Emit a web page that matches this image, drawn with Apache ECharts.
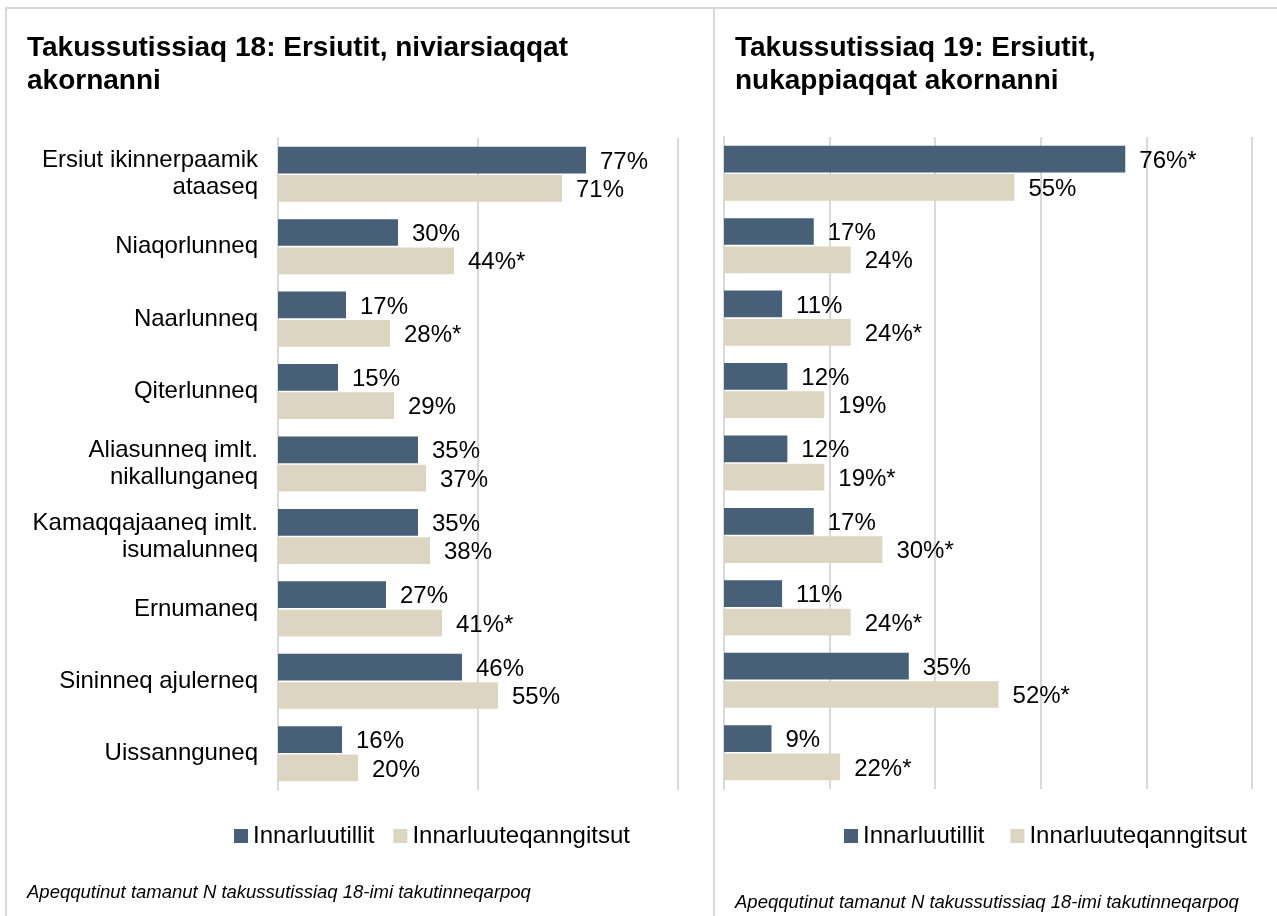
<!DOCTYPE html>
<html>
<head>
<meta charset="utf-8">
<script src="https://cdn.jsdelivr.net/npm/echarts@6/dist/echarts.min.js"></script>
<style>
  html, body { margin: 0; padding: 0; background: #fff; }
  #main { width: 1277px; height: 916px; }
</style>
</head>
<body>
<div id="main"></div>
<script>
// categories (same for both panels)
const categories = [
  "Ersiut ikinnerpaamik\nataaseq",
  "Niaqorlunneq",
  "Naarlunneq",
  "Qiterlunneq",
  "Aliasunneq imlt.\nnikallunganeq",
  "Kamaqqajaaneq imlt.\nisumalunneq",
  "Ernumaneq",
  "Sininneq ajulerneq",
  "Uissannguneq"
];
const seriesNames = ["Innarluutillit", "Innarluuteqanngitsut"];

// Takussutissiaq 18 - niviarsiaqqat
const girlsWith = [77, 30, 17, 15, 35, 35, 27, 46, 16];
const girlsWithout = [71, 44, 28, 29, 37, 38, 41, 55, 20];
const girlsWithStar = [0, 0, 0, 0, 0, 0, 0, 0, 0];
const girlsWithoutStar = [0, 1, 1, 0, 0, 0, 1, 0, 0];

// Takussutissiaq 19 - nukappiaqqat
const boysWith = [76, 17, 11, 12, 12, 17, 11, 35, 9];
const boysWithout = [55, 24, 24, 19, 19, 30, 24, 52, 22];
const boysWithStar = [1, 0, 0, 0, 0, 0, 0, 0, 0];
const boysWithoutStar = [0, 0, 1, 0, 1, 1, 1, 1, 1];

const BLUE = "#476078";
const BEIGE = "#dcd5c2";
const GRID = "#d9d9d9";
const FONT = "'Liberation Sans', Arial, sans-serif";

var myChart = echarts.init(document.getElementById("main"));

function makeLabel(stars) {
  return {
    show: true,
    position: "right",
    distance: 14,
    offset: [0, 2],
    fontFamily: FONT,
    fontSize: 24,
    color: "#000",
    formatter: (p) => p.value + "%" + (stars[p.dataIndex] ? "*" : "")
  };
}

function makeBar(name, idx, data, color, stars) {
  return {
    name: name,
    type: "bar",
    xAxisIndex: idx,
    yAxisIndex: idx,
    data: data,
    barGap: "6%",
    barCategoryGap: "24%",
    itemStyle: { color: color },
    label: makeLabel(stars)
  };
}

function makeXAxis(idx, interval) {
  return {
    type: "value",
    gridIndex: idx,
    min: 0,
    max: 100,
    interval: interval,
    axisLabel: { show: false },
    axisTick: { show: false },
    axisLine: { show: false },
    splitLine: { show: true, lineStyle: { color: GRID, width: 2 } }
  };
}

function makeYAxis(idx, showLabels) {
  return {
    type: "category",
    gridIndex: idx,
    inverse: true,
    data: categories,
    axisTick: { show: false },
    axisLine: { show: true, lineStyle: { color: GRID, width: 2 } },
    axisLabel: {
      show: showLabels,
      margin: 20,
      padding: [5, 0, 0, 0],
      fontFamily: FONT,
      fontSize: 24,
      lineHeight: 27,
      color: "#000",
      align: "right"
    }
  };
}

const titleStyle = { fontFamily: FONT, fontSize: 28, fontWeight: "bold", color: "#000", lineHeight: 33 };
const noteStyle = { fontFamily: FONT, fontSize: 18.5, fontStyle: "italic", fontWeight: "normal", color: "#000" };
const legendText = { fontFamily: FONT, fontSize: 24, color: "#000" };

var option = {
  animation: false,
  backgroundColor: "#fff",
  title: [
    { text: "Takussutissiaq 18: Ersiutit, niviarsiaqqat\nakornanni", left: 22, top: 27, textStyle: titleStyle },
    { text: "Takussutissiaq 19: Ersiutit,\nnukappiaqqat akornanni", left: 730, top: 27, textStyle: titleStyle },
    { text: "Apeqqutinut tamanut N takussutissiaq 18-imi takutinneqarpoq", left: 22, top: 878, textStyle: noteStyle },
    { text: "Apeqqutinut tamanut N takussutissiaq 18-imi takutinneqarpoq", left: 730, top: 888, textStyle: noteStyle }
  ],
  graphic: [
    { type: "rect", shape: { x: 6, y: 8, width: 708, height: 930 }, style: { fill: "none", stroke: "#d9d9d9", lineWidth: 2 }, z: -1 },
    { type: "rect", shape: { x: 714, y: 8, width: 580, height: 930 }, style: { fill: "none", stroke: "#d9d9d9", lineWidth: 2 }, z: -1 }
  ],
  legend: [
    { data: seriesNames, left: 229, top: 819, itemWidth: 14, itemHeight: 14, itemGap: 19, icon: "rect", textStyle: legendText },
    { data: seriesNames, left: 839, top: 819, itemWidth: 14, itemHeight: 14, itemGap: 26, icon: "rect", textStyle: legendText }
  ],
  grid: [
    { left: 278, top: 138, width: 400, height: 652 },
    { left: 724, top: 137, width: 528, height: 652 }
  ],
  xAxis: [makeXAxis(0, 50), makeXAxis(1, 20)],
  yAxis: [makeYAxis(0, true), makeYAxis(1, false)],
  series: [
    makeBar(seriesNames[0], 0, girlsWith, BLUE, girlsWithStar),
    makeBar(seriesNames[1], 0, girlsWithout, BEIGE, girlsWithoutStar),
    makeBar(seriesNames[0], 1, boysWith, BLUE, boysWithStar),
    makeBar(seriesNames[1], 1, boysWithout, BEIGE, boysWithoutStar)
  ]
};

option && myChart.setOption(option);
</script>
</body>
</html>
